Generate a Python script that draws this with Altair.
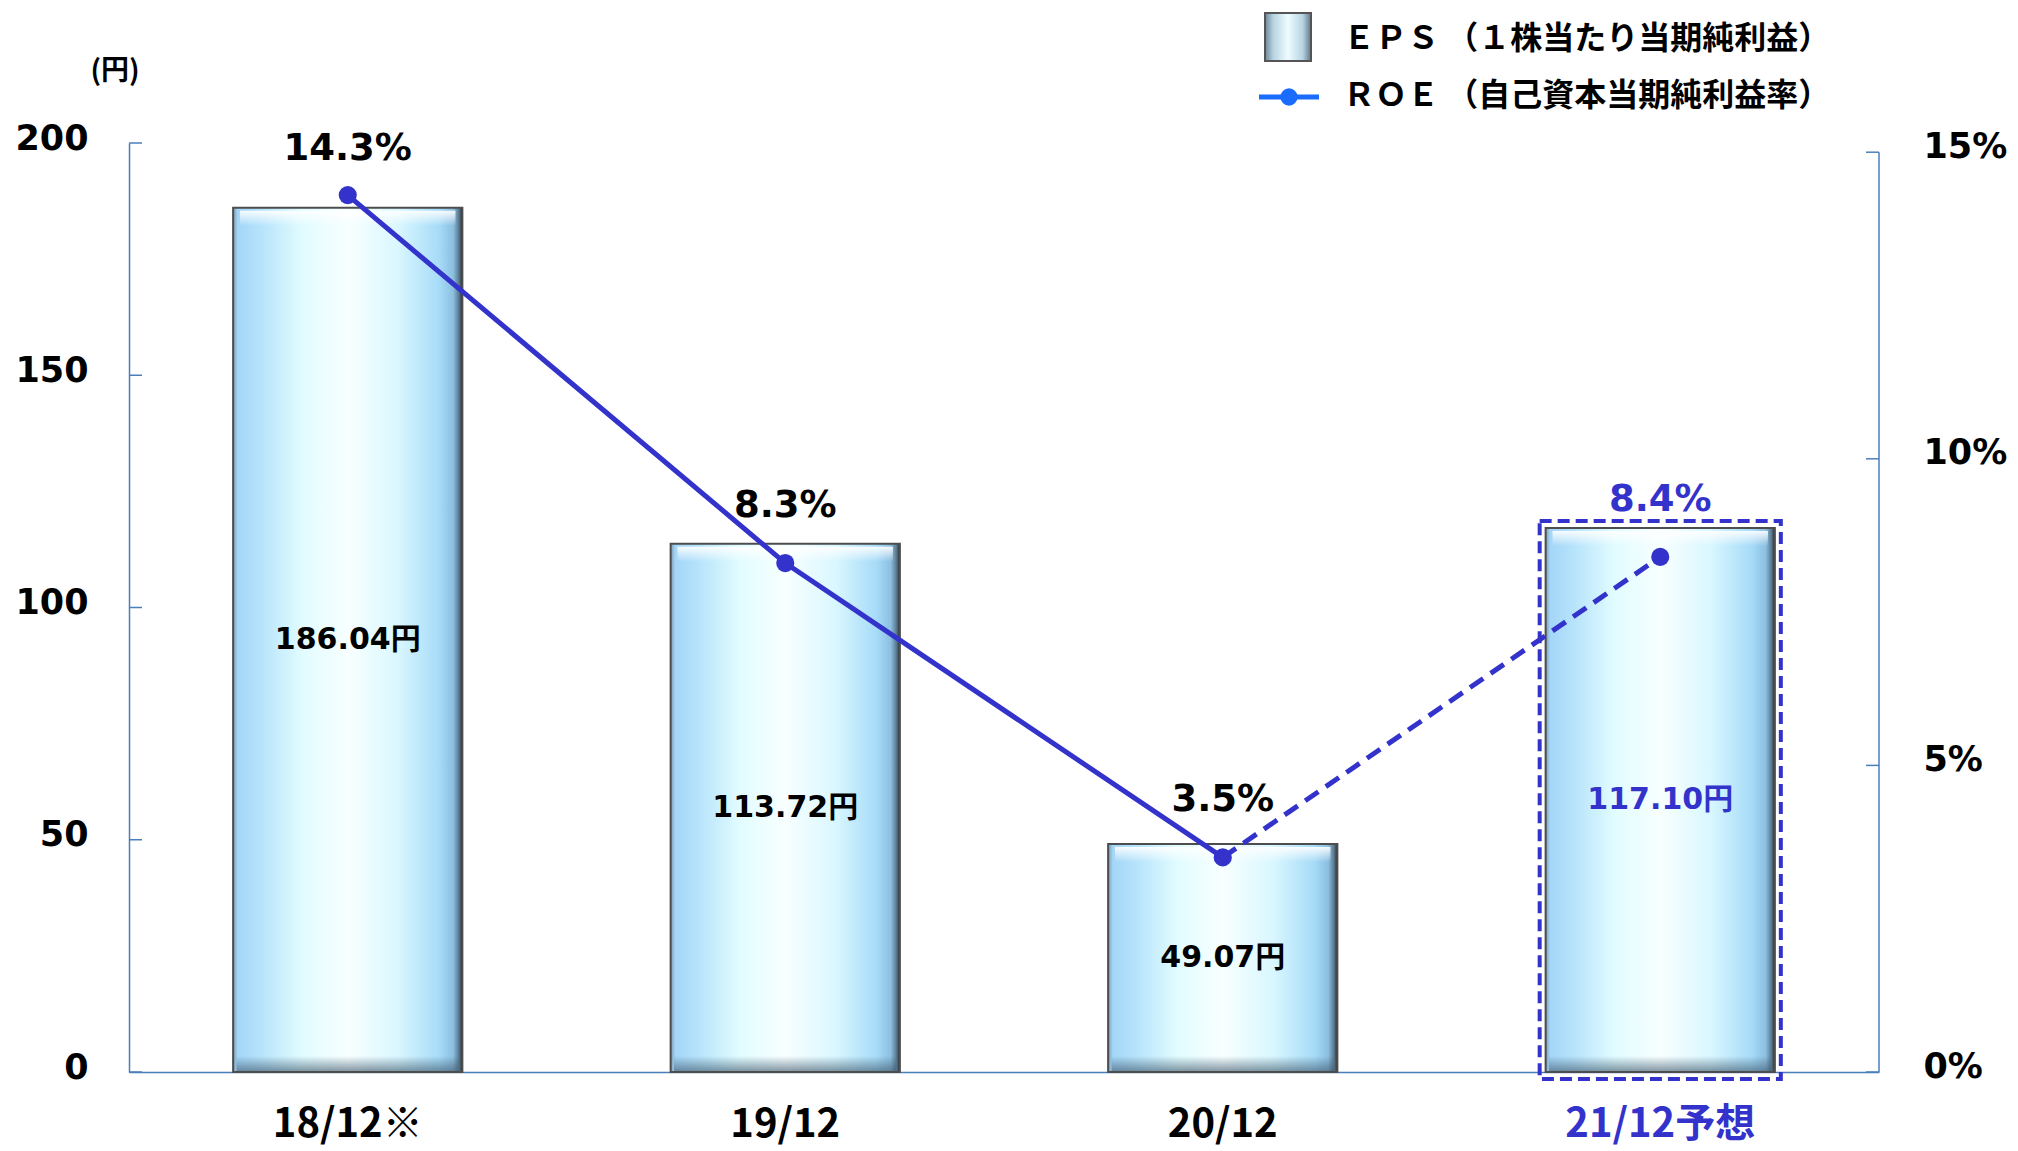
import altair as alt
import pandas as pd

# ---- data ----
periods = ["18/12※", "19/12", "20/12", "21/12予想"]
eps = [186.04, 113.72, 49.07, 117.10]
roe = [14.3, 8.3, 3.5, 8.4]
eps_labels = ["186.04円", "113.72円", "49.07円", "117.10円"]
roe_labels = ["14.3%", "8.3%", "3.5%", "8.4%"]
kind = ["actual", "actual", "actual", "forecast"]
left_ticks = [0, 50, 100, 150, 200]
right_ticks = [0, 5, 10, 15]
legend_labels = ["ＥＰＳ （１株当たり当期純利益）", "ＲＯＥ （自己資本当期純利益率）"]
unit_label = "(円)"

# ---- style ----
W, H = 1750, 929
BLUE = "#3333cc"
AXIS = "#4a7ebb"
NUM_FONT = "DejaVu Sans, Noto Sans CJK JP"
JP_FONT = "Noto Sans CJK JP"
RIGHT_MAX = 15.15

df = pd.DataFrame({"period": periods, "eps": eps, "roe": roe,
                   "eps_label": eps_labels, "roe_label": roe_labels, "kind": kind})
solid_df = pd.DataFrame({"period": periods[:3], "roe": roe[:3]})
dashed_df = pd.DataFrame({"period": periods[2:], "roe": roe[2:]})
fc_df = df[df["kind"] == "forecast"]
first_df = df.iloc[:1]
rest_df = df.iloc[1:]
one = pd.DataFrame({"k": [0]})

color_scale = alt.Scale(domain=["actual", "forecast"], range=["#000000", BLUE])

x_enc = alt.X("period:N", sort=periods,
              scale=alt.Scale(paddingInner=0.476, paddingOuter=0.238),
              axis=alt.Axis(title=None, ticks=False, labelAngle=0, domainColor=AXIS,
                            domainWidth=1.5, labelFont=JP_FONT, labelFontWeight="bold",
                            labelFontSize=40, labelPadding=64, labelBaseline="alphabetic",
                            labelLimit=500, labelOverlap=False,
                            labelColor={"condition": {"test": "datum.value == '" + periods[-1] + "'",
                                                      "value": BLUE},
                                        "value": "#000000"}))
x_noax = alt.X("period:N", sort=periods)

left_scale = alt.Scale(domain=[0, 200], nice=False)
right_scale = alt.Scale(domain=[0, RIGHT_MAX], nice=False)

bar_grad = {"gradient": "linear", "x1": 0, "x2": 1, "y1": 0, "y2": 0,
            "stops": [
                {"offset": 0.0, "color": "#7d9cb3"},
                {"offset": 0.02, "color": "#a4d6f8"},
                {"offset": 0.12, "color": "#b6e3fb"},
                {"offset": 0.3, "color": "#e1fcff"},
                {"offset": 0.5, "color": "#f8ffff"},
                {"offset": 0.72, "color": "#d9f7ff"},
                {"offset": 0.9, "color": "#a6dbf8"},
                {"offset": 0.96, "color": "#8cbfe0"},
                {"offset": 0.985, "color": "#5a7a90"},
                {"offset": 1.0, "color": "#2a2a2a"}]}
top_grad = {"gradient": "linear", "x1": 0, "x2": 0, "y1": 0, "y2": 1,
            "stops": [{"offset": 0, "color": "rgba(255,255,255,0.9)"},
                      {"offset": 1, "color": "rgba(255,255,255,0)"}]}
bot_grad = {"gradient": "linear", "x1": 0, "x2": 0, "y1": 0, "y2": 1,
            "stops": [{"offset": 0, "color": "rgba(60,85,105,0)"},
                      {"offset": 1, "color": "rgba(60,85,105,0.6)"}]}
swatch_grad = {"gradient": "linear", "x1": 0, "x2": 1, "y1": 0, "y2": 0,
               "stops": [{"offset": 0, "color": "#6f8594"},
                         {"offset": 0.18, "color": "#b7d4e3"},
                         {"offset": 0.5, "color": "#effcff"},
                         {"offset": 0.82, "color": "#b7d4e3"},
                         {"offset": 1, "color": "#5f7584"}]}

base = alt.Chart(df)

bars = base.mark_bar(fill=bar_grad, stroke="#4d4d4d", strokeWidth=2).encode(
    x=x_enc,
    y=alt.Y("eps:Q", scale=left_scale,
            axis=alt.Axis(title=None, values=left_ticks, ticks=False, grid=False,
                          domainColor=AXIS, domainWidth=1.5, labelFont=NUM_FONT,
                          labelFontWeight="bold", labelFontSize=35, labelColor="#000000",
                          labelPadding=41, labelOffset=-5)))

top_bevel = base.mark_bar(fill=top_grad, yOffset=3, y2Offset=18,
                          width=alt.RelativeBandSize(0.94)).encode(
    x=x_noax, y=alt.Y("eps:Q", scale=left_scale, axis=None), y2=alt.Y2("eps:Q"))

bot_bevel = base.mark_bar(fill=bot_grad, yOffset=-16, y2Offset=-1,
                          width=alt.RelativeBandSize(0.97)).encode(
    x=x_noax, y=alt.Y(datum=0, scale=left_scale, axis=None), y2=alt.Y2(datum=0))

bar_labels = base.transform_calculate(mid="datum.eps / 2").mark_text(
    font=NUM_FONT, fontWeight="bold", fontSize=30, baseline="middle").encode(
    x=x_noax, y=alt.Y("mid:Q", scale=left_scale, axis=None),
    text="eps_label:N",
    color=alt.Color("kind:N", scale=color_scale, legend=None))

box = alt.Chart(fc_df).mark_bar(fillOpacity=0, fill="#ffffff", stroke=BLUE, strokeWidth=4,
                                strokeDash=[12, 6], yOffset=-7, y2Offset=7,
                                width=alt.RelativeBandSize(1.052)).encode(
    x=x_noax, y=alt.Y("eps:Q", scale=left_scale, axis=None), y2=alt.Y2(datum=0))

lticks = alt.Chart(pd.DataFrame({"t": left_ticks})).mark_rule(color=AXIS, strokeWidth=1.5).encode(
    y=alt.Y("t:Q", scale=left_scale, axis=None), x=alt.value(0), x2=alt.value(13))

unit = alt.Chart(one).mark_text(text=unit_label, font=JP_FONT, fontWeight="bold", fontSize=28,
                                align="center", baseline="middle").encode(
    x=alt.value(-14), y=alt.value(-71))

swatch = alt.Chart(one).mark_rect(fill=swatch_grad, stroke="#555555", strokeWidth=2).encode(
    x=alt.value(1136), x2=alt.value(1182), y=alt.value(-130), y2=alt.value(-82))
leg_line = alt.Chart(one).mark_rule(color="#1a6cff", strokeWidth=5).encode(
    x=alt.value(1130), x2=alt.value(1190), y=alt.value(-46))
leg_dot = alt.Chart(one).mark_point(filled=True, size=300, color="#1a6cff", opacity=1).encode(
    x=alt.value(1160), y=alt.value(-46))
leg_t1 = alt.Chart(one).mark_text(text=legend_labels[0], font=JP_FONT, fontWeight="bold",
                                  fontSize=32, align="left", baseline="middle").encode(
    x=alt.value(1214), y=alt.value(-104))
leg_t2 = alt.Chart(one).mark_text(text=legend_labels[1], font=JP_FONT, fontWeight="bold",
                                  fontSize=32, align="left", baseline="middle").encode(
    x=alt.value(1214), y=alt.value(-47))

solid = alt.Chart(solid_df).mark_line(color=BLUE, strokeWidth=5).encode(
    x=x_noax,
    y=alt.Y("roe:Q", scale=right_scale,
            axis=alt.Axis(orient="right", title=None, values=right_ticks, ticks=False,
                          grid=False, domain=False, labelExpr="datum.value + '%'",
                          labelFont=NUM_FONT, labelFontWeight="bold", labelFontSize=35,
                          labelColor="#000000", labelPadding=44, labelOffset=-6)))
dashed = alt.Chart(dashed_df).mark_line(color=BLUE, strokeWidth=5, strokeDash=[16, 9]).encode(
    x=x_noax, y=alt.Y("roe:Q", scale=right_scale, axis=None))
points = base.mark_point(filled=True, size=330, color=BLUE, opacity=1).encode(
    x=x_noax, y=alt.Y("roe:Q", scale=right_scale, axis=None))
pct_first = alt.Chart(first_df).mark_text(font=NUM_FONT, fontWeight="bold", fontSize=37, dy=-46,
                                          baseline="middle").encode(
    x=x_noax, y=alt.Y("roe:Q", scale=right_scale, axis=None),
    text="roe_label:N",
    color=alt.Color("kind:N", scale=color_scale, legend=None))
pct_rest = alt.Chart(rest_df).mark_text(font=NUM_FONT, fontWeight="bold", fontSize=37, dy=-57,
                                        baseline="middle").encode(
    x=x_noax, y=alt.Y("roe:Q", scale=right_scale, axis=None),
    text="roe_label:N",
    color=alt.Color("kind:N", scale=color_scale, legend=None))
rdomain = alt.Chart(pd.DataFrame({"a": [right_ticks[0]], "b": [right_ticks[-1]]})).mark_rule(
    color=AXIS, strokeWidth=1.5).encode(
    x=alt.value(W), y=alt.Y("a:Q", scale=right_scale, axis=None), y2=alt.Y2("b:Q"))
rticks = alt.Chart(pd.DataFrame({"t": right_ticks})).mark_rule(color=AXIS, strokeWidth=1.5).encode(
    y=alt.Y("t:Q", scale=right_scale, axis=None), x=alt.value(W - 13), x2=alt.value(W))

chart = alt.layer(
    bars, top_bevel, bot_bevel, box, bar_labels, lticks, unit,
    swatch, leg_line, leg_dot, leg_t1, leg_t2,
    solid, dashed, points, pct_first, pct_rest, rdomain, rticks,
).resolve_scale(y="independent").properties(
    width=W, height=H, autosize="none",
    padding={"left": 121, "top": 135, "right": 131, "bottom": 79},
    background="#ffffff",
).configure_view(stroke=None)

chart.save("out.html", embed_options={"renderer": "svg", "actions": False})
